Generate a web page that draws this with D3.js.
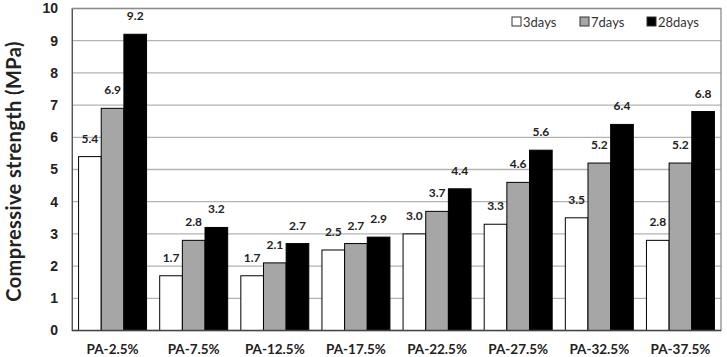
<!DOCTYPE html>
<html>
<head>
<meta charset="utf-8">
<script src="https://cdn.jsdelivr.net/npm/d3@7"></script>
<style>
  body { margin: 0; background: #fff; }
  svg { display: block; font-family: Lato, "Open Sans", sans-serif; }
</style>
</head>
<body>
<div id="chart"></div>
<script>
// data
const groups = ['PA-2.5%', 'PA-7.5%', 'PA-12.5%', 'PA-17.5%', 'PA-22.5%', 'PA-27.5%', 'PA-32.5%', 'PA-37.5%'];
const seriesNames = ['3days', '7days', '28days'];
const days3 = [5.4, 1.7, 1.7, 2.5, 3.0, 3.3, 3.5, 2.8];
const days7 = [6.9, 2.8, 2.1, 2.7, 3.7, 4.6, 5.2, 5.2];
const days28 = [9.2, 3.2, 2.7, 2.9, 4.4, 5.6, 6.4, 6.8];
const yTicks = [0, 1, 2, 3, 4, 5, 6, 7, 8, 9, 10];
const fills = ['#ffffff', '#a6a6a6', '#000000'];

const series = [days3, days7, days28];

const totalW = 727, totalH = 357;
const margin = {top: 8.5, right: 6, bottom: 26.5, left: 72};
const W = totalW - margin.left - margin.right;
const H = totalH - margin.top - margin.bottom;

const svg = d3.select('#chart').append('svg')
  .attr('width', totalW)
  .attr('height', totalH);

const g = svg.append('g')
  .attr('transform', `translate(${margin.left},${margin.top})`);

const x0 = d3.scaleBand().domain(groups).range([0, W]).paddingInner(0).paddingOuter(0);
const x1 = d3.scaleBand().domain(seriesNames).range([0, x0.bandwidth()]).paddingInner(0).paddingOuter(0.29);
const y = d3.scaleLinear().domain([0, 10]).range([H, 0]);

// gridlines
g.selectAll('.grid').data(yTicks.filter(t => t > 0))
  .enter().append('line')
  .attr('x1', 0).attr('x2', W)
  .attr('y1', d => y(d)).attr('y2', d => y(d))
  .attr('stroke', '#b3b3b3')
  .attr('stroke-width', 1.3);

// plot border
g.append('rect')
  .attr('x', 0).attr('y', 0)
  .attr('width', W).attr('height', H)
  .attr('fill', 'none')
  .attr('stroke', '#8c8c8c')
  .attr('stroke-width', 1.3);

// y axis
const yAxis = g.append('g')
  .call(d3.axisLeft(y).tickValues(yTicks).tickSize(0).tickPadding(14).tickFormat(d3.format('d')));
yAxis.select('.domain').attr('stroke', '#555');
yAxis.selectAll('text')
  .attr('font-size', 14)
  .attr('font-weight', 'bold')
  .attr('fill', '#222');

// bars
const gs = g.selectAll('.grp').data(groups)
  .enter().append('g')
  .attr('transform', d => `translate(${x0(d)},0)`);

gs.selectAll('rect')
  .data((d, i) => seriesNames.map((s, j) => ({s: s, v: series[j][i], j: j})))
  .enter().append('rect')
  .attr('x', d => x1(d.s))
  .attr('width', x1.bandwidth())
  .attr('y', d => y(d.v))
  .attr('height', d => H - y(d.v))
  .attr('fill', d => fills[d.j])
  .attr('stroke', '#000')
  .attr('stroke-width', 1);

gs.selectAll('.lbl')
  .data((d, i) => seriesNames.map((s, j) => ({s: s, v: series[j][i], j: j})))
  .enter().append('text')
  .attr('x', d => x1(d.s) + x1.bandwidth() / 2)
  .attr('y', d => y(d.v) - 14)
  .attr('text-anchor', 'middle')
  .attr('font-size', 12)
  .attr('font-weight', 'bold')
  .attr('fill', '#222')
  .text(d => d.v.toFixed(1));

// x axis
g.append('line')
  .attr('x1', 0).attr('x2', W)
  .attr('y1', H).attr('y2', H)
  .attr('stroke', '#444')
  .attr('stroke-width', 1.5);

g.selectAll('.xl').data(groups)
  .enter().append('text')
  .attr('x', d => x0(d) + x0.bandwidth() / 2)
  .attr('y', H + 23)
  .attr('text-anchor', 'middle')
  .attr('font-size', 13.5)
  .attr('font-weight', 'bold')
  .attr('fill', '#222')
  .text(d => d);

// y label
svg.append('text')
  .attr('transform', `translate(21,${margin.top + H / 2 + 2}) rotate(-90)`)
  .attr('text-anchor', 'middle')
  .attr('font-size', 20)
  .attr('letter-spacing', 0.4)
  .attr('font-weight', 'bold')
  .attr('fill', '#222')
  .text('Compressive  strength  (MPa)');

// legend
const legX = [512, 580, 647];
const leg = svg.selectAll('.leg').data(seriesNames)
  .enter().append('g')
  .attr('transform', (d, i) => `translate(${legX[i]},17)`);
leg.append('rect')
  .attr('width', 9).attr('height', 9)
  .attr('fill', (d, i) => fills[i])
  .attr('stroke', '#333')
  .attr('stroke-width', 1);
leg.append('text')
  .attr('x', 11).attr('y', 9.5)
  .attr('font-size', 13)
  .attr('fill', '#333')
  .text(d => d);
</script>
</body>
</html>
